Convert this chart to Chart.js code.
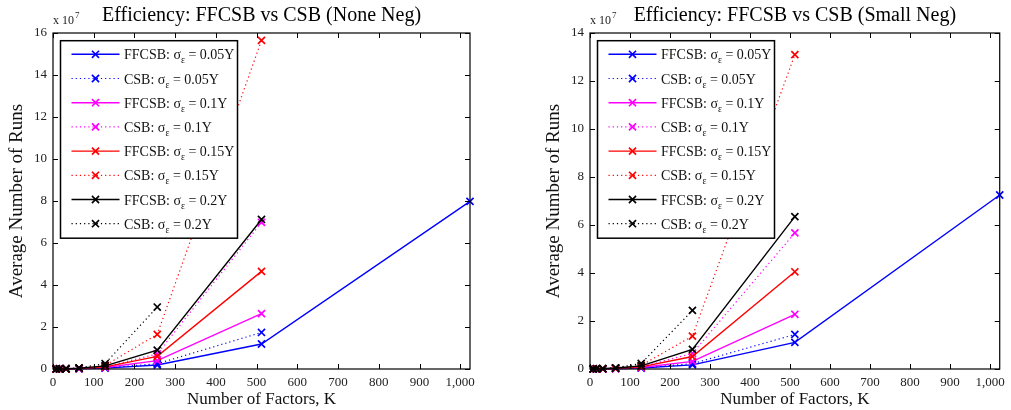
<!DOCTYPE html>
<html>
<head>
<meta charset="utf-8">
<script src="https://cdn.jsdelivr.net/npm/chart.js@4.4.1/dist/chart.umd.min.js"></script>
<style>
  html, body { margin: 0; padding: 0; background: #fff; }
  #wrap { position: relative; width: 1011px; height: 410px; }
  .panel { position: absolute; top: 0; height: 410px; }
  #left { left: 0; width: 505px; }
  #right { left: 505px; width: 506px; }
</style>
</head>
<body>
<div id="wrap">
  <div class="panel" id="left"><canvas id="noneNeg"></canvas></div>
  <div class="panel" id="right"><canvas id="smallNeg"></canvas></div>
</div>
<script>
// number of factors K (only FFCSB at 0.05Y reaches 1024)
const factors = [8, 16, 32, 64, 128, 256, 512, 1024];
const noiseLevels = ['0.05', '0.1', '0.15', '0.2'];
const noiseColors = ['#0000ff', '#ff00ff', '#ff0000', '#000000'];
const xTickValues = [0, 100, 200, 300, 400, 500, 600, 700, 800, 900, 1000];

// average number of runs, in units of 10^7 -- no negative effects
const noneFfcsb = [
  [0.001, 0.002, 0.005, 0.012, 0.04, 0.19, 1.19, 7.98],
  [0.001, 0.003, 0.007, 0.02, 0.07, 0.40, 2.64],
  [0.002, 0.004, 0.010, 0.03, 0.10, 0.60, 4.65],
  [0.002, 0.005, 0.012, 0.04, 0.15, 0.90, 7.12]
];
const noneCsb = [
  [0.001, 0.002, 0.006, 0.015, 0.05, 0.25, 1.74],
  [0.001, 0.003, 0.008, 0.025, 0.10, 0.72, 6.98],
  [0.002, 0.005, 0.012, 0.04, 0.17, 1.65, 15.65],
  [0.003, 0.006, 0.016, 0.05, 0.26, 2.95]
];
const noneYTicks = [0, 2, 4, 6, 8, 10, 12, 14, 16];

// average number of runs, in units of 10^7 -- small negative effects
const smallFfcsb = [
  [0.001, 0.002, 0.005, 0.012, 0.04, 0.17, 1.11, 7.25],
  [0.001, 0.003, 0.007, 0.02, 0.06, 0.32, 2.28],
  [0.002, 0.004, 0.009, 0.03, 0.09, 0.52, 4.05],
  [0.002, 0.005, 0.011, 0.04, 0.13, 0.82, 6.35]
];
const smallCsb = [
  [0.001, 0.002, 0.006, 0.015, 0.05, 0.22, 1.44],
  [0.001, 0.003, 0.008, 0.024, 0.09, 0.65, 5.67],
  [0.002, 0.005, 0.011, 0.04, 0.15, 1.37, 13.1],
  [0.003, 0.006, 0.015, 0.05, 0.23, 2.44]
];
const smallYTicks = [0, 2, 4, 6, 8, 10, 12, 14];

const serif = "'Liberation Serif', 'Times New Roman', serif";

function buildDatasets(ffcsb, csb) {
  const sets = [];
  noiseLevels.forEach((level, i) => {
    [['FFCSB', ffcsb[i], []], ['CSB', csb[i], [1.2, 3]]].forEach(([method, values, dash]) => {
      sets.push({
        method: method,
        noise: level,
        data: values.map((v, j) => ({ x: factors[j], y: v })),
        borderColor: noiseColors[i],
        backgroundColor: noiseColors[i],
        borderWidth: dash.length ? 1.2 : 1.4,
        borderDash: dash,
        pointStyle: 'crossRot',
        pointRadius: 5,
        pointBorderWidth: 1.7,
        pointBorderColor: noiseColors[i],
        clip: false,
        tension: 0
      });
    });
  });
  // later series drawn on top
  sets.forEach((ds, i) => { ds.order = sets.length - i; });
  return sets;
}

// box around the axes with inward tick marks on all four sides
const axesFrame = {
  id: 'axesFrame',
  afterDatasetsDraw(chart) {
    const { ctx, chartArea: a, scales } = chart;
    ctx.save();
    ctx.strokeStyle = '#000';
    ctx.lineWidth = 1.2;
    ctx.strokeRect(a.left, a.top, a.right - a.left, a.bottom - a.top);
    ctx.lineWidth = 1;
    ctx.beginPath();
    scales.x.ticks.forEach(t => {
      const px = Math.round(scales.x.getPixelForValue(t.value)) + 0.5;
      ctx.moveTo(px, a.bottom); ctx.lineTo(px, a.bottom - 5);
      ctx.moveTo(px, a.top); ctx.lineTo(px, a.top + 5);
    });
    scales.y.ticks.forEach(t => {
      const py = Math.round(scales.y.getPixelForValue(t.value)) + 0.5;
      ctx.moveTo(a.left, py); ctx.lineTo(a.left + 5, py);
      ctx.moveTo(a.right, py); ctx.lineTo(a.right - 5, py);
    });
    ctx.stroke();

    // exponent note above the y axis
    ctx.fillStyle = '#222';
    ctx.textBaseline = 'alphabetic';
    ctx.font = '12px ' + serif;
    ctx.fillText('x 10', a.left, a.top - 9);
    const w = ctx.measureText('x 10').width;
    ctx.font = '9px ' + serif;
    ctx.fillText('7', a.left + w + 1, a.top - 15);
    ctx.restore();
  }
};

// legend with subscripted sigma_epsilon, drawn over the lines
const sigmaLegend = {
  id: 'sigmaLegend',
  afterDatasetsDraw(chart) {
    const { ctx, chartArea: a } = chart;
    const x0 = a.left + 7.5, y0 = a.top + 7.7;
    const w = 177, h = 197.5, rowH = 24.2;
    ctx.save();
    ctx.fillStyle = '#fff';
    ctx.fillRect(x0, y0, w, h);
    ctx.strokeStyle = '#000';
    ctx.lineWidth = 1.5;
    ctx.strokeRect(x0, y0, w, h);

    chart.data.datasets.forEach((ds, i) => {
      const y = y0 + 13.6 + i * rowH;
      ctx.strokeStyle = ds.borderColor;
      ctx.lineWidth = ds.borderWidth;
      ctx.setLineDash(ds.borderDash);
      ctx.beginPath();
      ctx.moveTo(x0 + 11, y);
      ctx.lineTo(x0 + 59, y);
      ctx.stroke();
      ctx.setLineDash([]);
      ctx.lineWidth = ds.pointBorderWidth;
      Chart.helpers.drawPoint(ctx, {
        pointStyle: 'crossRot', radius: ds.pointRadius, borderWidth: ds.pointBorderWidth, rotation: 0
      }, x0 + 35, y);

      let tx = x0 + 63.5;
      const base = y + 5;
      ctx.fillStyle = '#111';
      ctx.textBaseline = 'alphabetic';
      ctx.font = '14px ' + serif;
      const head = ds.method + ': \u03c3';
      ctx.fillText(head, tx, base);
      tx += ctx.measureText(head).width;
      ctx.font = '9.5px ' + serif;
      ctx.fillText('\u03b5', tx, base + 4);
      tx += ctx.measureText('\u03b5').width;
      ctx.font = '14px ' + serif;
      ctx.fillText(' = ' + ds.noise + 'Y', tx, base);
    });
    ctx.restore();
  }
};

function makePanel(canvasId, titleText, yTicks, ffcsb, csb, padLeft, padRight) {
  const yMax = yTicks[yTicks.length - 1];
  new Chart(document.getElementById(canvasId), {
    type: 'line',
    data: { datasets: buildDatasets(ffcsb, csb) },
    options: {
      responsive: true,
      maintainAspectRatio: false,
      animation: false,
      layout: { padding: { left: padLeft, right: padRight, top: 0, bottom: 0 } },
      plugins: {
        legend: { display: false },
        tooltip: { enabled: false },
        title: {
          display: true,
          text: titleText,
          fullSize: false,
          color: '#000',
          font: { family: serif, size: 20, weight: 'normal' },
          padding: { top: 4, bottom: 5 }
        }
      },
      scales: {
        x: {
          type: 'linear',
          min: 0,
          max: 1024,
          afterBuildTicks: s => { s.ticks = xTickValues.map(v => ({ value: v })); },
          afterFit: s => { s.height = 41; },
          grid: { display: false, drawTicks: false },
          border: { display: false },
          ticks: { color: '#222', font: { family: serif, size: 13 }, padding: 6, maxRotation: 0, autoSkip: false },
          title: {
            display: true,
            text: 'Number of Factors, K',
            color: '#111',
            font: { family: serif, size: 17 },
            padding: { top: 0, bottom: 0 }
          }
        },
        y: {
          min: 0,
          max: yMax,
          afterBuildTicks: s => { s.ticks = yTicks.map(v => ({ value: v })); },
          afterFit: s => { s.width = 53; },
          grid: { display: false, drawTicks: false },
          border: { display: false },
          ticks: { color: '#222', font: { family: serif, size: 13 }, padding: 6 },
          title: {
            display: true,
            text: 'Average Number of Runs',
            color: '#111',
            font: { family: serif, size: 19 },
            padding: { top: 6, bottom: 0 }
          }
        }
      }
    },
    plugins: [axesFrame, sigmaLegend]
  });
}

makePanel('noneNeg', 'Efficiency: FFCSB vs CSB (None Neg)', noneYTicks, noneFfcsb, noneCsb, 0, 35);
makePanel('smallNeg', 'Efficiency: FFCSB vs CSB (Small Neg)', smallYTicks, smallFfcsb, smallCsb, 32, 4);
</script>
</body>
</html>
